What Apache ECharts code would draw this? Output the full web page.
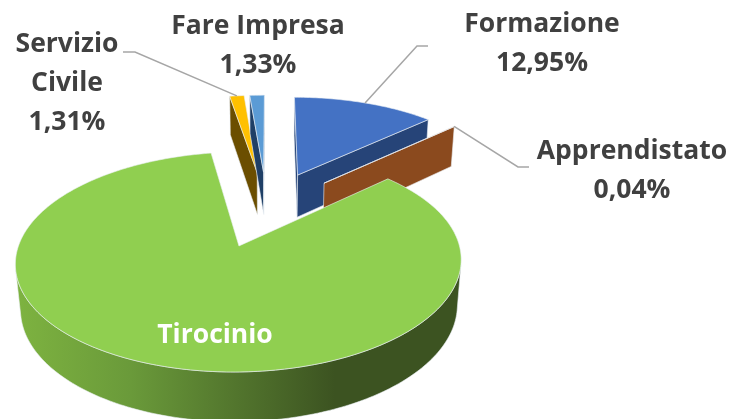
<!DOCTYPE html>
<html>
<head>
<meta charset="utf-8">
<style>
  html, body { margin: 0; padding: 0; background: #fff; }
  #chart { width: 732px; height: 419px; }
</style>
<script src="https://cdn.jsdelivr.net/npm/echarts@6/dist/echarts.min.js"></script>
</head>
<body>
<div id="chart"></div>
<script>
var categories = ['Formazione', 'Apprendistato', 'Tirocinio', 'Servizio Civile', 'Fare Impresa'];
var values = [12.95, 0.04, 84.37, 1.31, 1.33];
var labelTexts = ['Formazione\n12,95%', 'Apprendistato\n0,04%', 'Tirocinio', 'Servizio\nCivile\n1,31%', 'Fare Impresa\n1,33%'];

var topColors = ['#4472C4', '#ED7D31', '#90CF50', '#FFC000', '#5B9BD5'];
var sideColors = ['#264478', '#8B4A1E', '#3C5321', '#6B4E00', '#1F3F66'];
// painter's order, back to front
var drawOrder = [3, 4, 0, 1, 2];

// where the labels sit and how their leader lines bend
var labelLayout = [
  { x: 542, y: 44, color: '#404040', elbow: [[417, 46], [428, 46]] },
  { x: 632, y: 171, color: '#404040', elbow: [[518, 167], [529, 167]] },
  { x: 215, y: 335, color: '#fff' },
  { x: 67, y: 83, color: '#404040', elbow: [[135, 52], [123, 52]] },
  { x: 258, y: 46, color: '#404040' }
];

// perspective camera fitted to the 3D pie
var view = { x0: 270.5, y0: 246, A: 220.5, B: 107.7, D: 46, k: 0.1455, m: 0.02, uPP: 0.1425 };
var pieCenter = { u: 0.124, v: 0.37 };
var explode = 0.39;

function project(u, v, z) {
  var w = 1 + view.k * v + view.m * z;
  return [
    view.x0 + view.A * (u - view.uPP) / w,
    view.y0 + (-view.B * v + view.D * z) / w
  ];
}

var total = values.reduce(function(a, b) { return a + b; }, 0);

function sliceGeometry(index) {
  var before = 0;
  for (var i = 0; i < index; i++) before += values[i];
  var t0 = before / total * Math.PI * 2;
  var t1 = (before + values[index]) / total * Math.PI * 2;
  var mid = (t0 + t1) / 2;
  var cu = pieCenter.u + explode * Math.sin(mid);
  var cv = pieCenter.v + explode * Math.cos(mid);
  var steps = Math.max(2, Math.ceil((t1 - t0) / (Math.PI / 180)));
  var rim = [];
  for (var s = 0; s <= steps; s++) {
    var t = t0 + (t1 - t0) * s / steps;
    rim.push([cu + Math.sin(t), cv + Math.cos(t)]);
  }
  return { cu: cu, cv: cv, rim: rim, mid: mid };
}

function signedArea(pts) {
  var a = 0;
  for (var i = 0; i < pts.length; i++) {
    var p = pts[i], q = pts[(i + 1) % pts.length];
    a += p[0] * q[1] - q[0] * p[1];
  }
  return a;
}

function quad(p, q) {
  return [project(p[0], p[1], 0), project(q[0], q[1], 0), project(q[0], q[1], 1), project(p[0], p[1], 1)];
}

function sideFill(index) {
  if (index !== 2) return sideColors[index];
  return new echarts.graphic.LinearGradient(20, 0, 335, 0, [
    { offset: 0, color: '#7DB240' },
    { offset: 0.35, color: '#6A9A3A' },
    { offset: 1, color: '#3C5321' }
  ], true);
}

function renderSlice(params, api) {
  var index = params.dataIndex;
  var g = sliceGeometry(index);
  var rank = drawOrder.indexOf(index) * 10;
  var apex = [g.cu, g.cv];
  var edge = { stroke: 'rgba(235,240,245,0.75)', lineWidth: 0.8 };
  var children = [];

  function addFace(points, fill, z2) {
    children.push({
      type: 'polygon',
      z2: z2,
      shape: { points: points },
      style: { fill: fill, stroke: edge.stroke, lineWidth: edge.lineWidth }
    });
  }

  // the two cut faces
  var cuts = [quad(apex, g.rim[0]), quad(g.rim[g.rim.length - 1], apex)];
  cuts.forEach(function(pts) {
    if (signedArea(pts) < 0) addFace(pts, sideColors[index], rank + 1);
  });

  // outer wall, consecutive visible segments merged
  var run = null;
  function flush() {
    if (!run) return;
    var pts = run.map(function(p) { return project(p[0], p[1], 0); });
    var lower = run.slice().reverse().map(function(p) { return project(p[0], p[1], 1); });
    addFace(pts.concat(lower), sideFill(index), rank + 2);
    run = null;
  }
  for (var i = 0; i < g.rim.length - 1; i++) {
    if (signedArea(quad(g.rim[i], g.rim[i + 1])) < 0) {
      if (!run) run = [g.rim[i]];
      run.push(g.rim[i + 1]);
    } else {
      flush();
    }
  }
  flush();

  // top face
  var top = [project(apex[0], apex[1], 0)].concat(g.rim.map(function(p) {
    return project(p[0], p[1], 0);
  }));
  addFace(top, topColors[index], rank + 3);

  // label and leader line
  var lay = labelLayout[index];
  if (lay.elbow) {
    var anchor = project(g.cu + Math.sin(g.mid), g.cv + Math.cos(g.mid), 0);
    children.push({
      type: 'polyline',
      z2: 100,
      shape: { points: [anchor].concat(lay.elbow) },
      style: { fill: null, stroke: '#A6A6A6', lineWidth: 1.5 }
    });
  }
  children.push({
    type: 'text',
    z2: 110,
    x: lay.x,
    y: lay.y,
    style: {
      text: labelTexts[index],
      fill: lay.color,
      font: 'bold 26.5px "Open Sans"',
      align: 'center',
      verticalAlign: 'middle',
      lineHeight: 39
    }
  });

  return { type: 'group', children: children };
}

var myChart = echarts.init(document.getElementById('chart'));
myChart.setOption({
  animation: false,
  backgroundColor: '#fff',
  series: [{
    type: 'custom',
    coordinateSystem: 'none',
    silent: true,
    renderItem: renderSlice,
    data: values.map(function(v, i) {
      return { name: categories[i], value: [v] };
    })
  }]
});
</script>
</body>
</html>
